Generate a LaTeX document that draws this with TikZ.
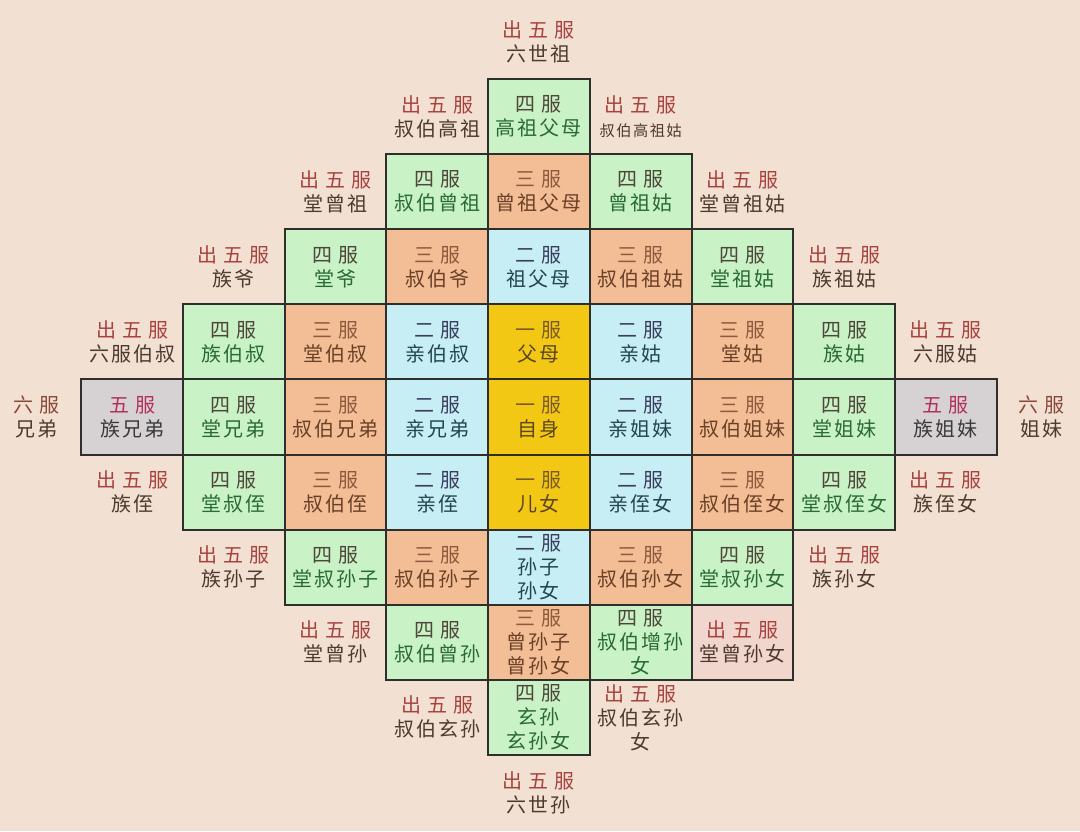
\documentclass[tikz,border=0pt]{standalone}
\usepackage{fontspec}
\newfontfamily\cjk[LetterSpace=10]{Noto Sans CJK SC}
\newfontfamily\cjkwide[LetterSpace=30]{Noto Sans CJK SC}

\definecolor{paper}{HTML}{F2E1D3}
\definecolor{gridline}{HTML}{2E2E2A}
\definecolor{yifill}{HTML}{F3C814}
\definecolor{yigrade}{HTML}{7A5A28}
\definecolor{yitext}{HTML}{5A4620}
\definecolor{erfill}{HTML}{C8EEF5}
\definecolor{ergrade}{HTML}{3A3E5E}
\definecolor{ertext}{HTML}{24464E}
\definecolor{sanfill}{HTML}{F3BE96}
\definecolor{sangrade}{HTML}{8E5A3C}
\definecolor{santext}{HTML}{6A4026}
\definecolor{sifill}{HTML}{C9F2C7}
\definecolor{sigrade}{HTML}{4E4638}
\definecolor{sitext}{HTML}{2A6A34}
\definecolor{wufill}{HTML}{D6D2D4}
\definecolor{wugrade}{HTML}{B3305A}
\definecolor{wutext}{HTML}{3A3A3A}
\definecolor{pinkfill}{HTML}{F0D6CD}
\definecolor{outgrade}{HTML}{A8423F}
\definecolor{outtext}{HTML}{4E3A2E}
\definecolor{liugrade}{HTML}{8A4A3A}

\newcommand\grade[2]{{\cjkwide\color{#1}#2}}

\tikzset{
  cell/.style={rectangle, minimum width=50.85pt, minimum height=37.55pt,
    inner sep=0pt, align=center, font=\cjk\fontsize{10}{12}\selectfont},
  box/.style={cell, draw=gridline, line width=1pt},
  yi/.style={box, fill=yifill, text=yitext},
  er/.style={box, fill=erfill, text=ertext},
  san/.style={box, fill=sanfill, text=santext},
  si/.style={box, fill=sifill, text=sitext},
  wu/.style={box, fill=wufill, text=wutext},
  beyond/.style={cell, text=outtext},
  beyondbox/.style={box, fill=pinkfill, text=outtext}
}

\begin{document}
\begin{tikzpicture}[x=50.85pt, y=37.55pt]
            \fill[paper] (-5.30,5.553) rectangle (5.32,-5.513);
            \useasboundingbox (-5.30,5.553) rectangle (5.32,-5.513);

            % 一服
            \foreach \x/\y/\who in {0/1/父母, 0/0/自身, 0/-1/儿女}
                \node[yi] (yi\x\y) at (\x,\y) {\grade{yigrade}{一服}\\\who};

            % 二服
            \foreach \x/\y/\who in {0/2/祖父母, -1/1/亲伯叔, 1/1/亲姑, -1/0/亲兄弟, 1/0/亲姐妹,
                    -1/-1/亲侄, 1/-1/亲侄女, 0/-2/孙子\\孙女}
                \node[er] (er\x\y) at (\x,\y) {\grade{ergrade}{二服}\\\who};

            % 三服
            \foreach \x/\y/\who in {0/3/曾祖父母, -1/2/叔伯爷, 1/2/叔伯祖姑, -2/1/堂伯叔, 2/1/堂姑,
                    -2/0/叔伯兄弟, 2/0/叔伯姐妹, -2/-1/叔伯侄, 2/-1/叔伯侄女,
                    -1/-2/叔伯孙子, 1/-2/叔伯孙女, 0/-3/曾孙子\\曾孙女}
                \node[san] (san\x\y) at (\x,\y) {\grade{sangrade}{三服}\\\who};

            % 四服
            \foreach \x/\y/\who in {0/4/高祖父母, -1/3/叔伯曾祖, 1/3/曾祖姑, -2/2/堂爷, 2/2/堂祖姑,
                    -3/1/族伯叔, 3/1/族姑, -3/0/堂兄弟, 3/0/堂姐妹, -3/-1/堂叔侄, 3/-1/堂叔侄女,
                    -2/-2/堂叔孙子, 2/-2/堂叔孙女, -1/-3/叔伯曾孙, 1/-3/叔伯增孙\\女, 0/-4/玄孙\\玄孙女}
                \node[si] (si\x\y) at (\x,\y) {\grade{sigrade}{四服}\\\who};

            % 五服
            \foreach \x/\y/\who in {-4/0/族兄弟, 4/0/族姐妹}
                \node[wu] (wu\x\y) at (\x,\y) {\grade{wugrade}{五服}\\\who};

            % 出五服
            \foreach \x/\y/\who in {0/5/六世祖, -1/4/叔伯高祖, 1/4/{\fontsize{7.6}{12}\selectfont 叔伯高祖姑},
                    -2/3/堂曾祖, 2/3/堂曾祖姑, -3/2/族爷, 3/2/族祖姑, -4/1/六服伯叔, 4/1/六服姑,
                    -4/-1/族侄, 4/-1/族侄女, -3/-2/族孙子, 3/-2/族孙女, -2/-3/堂曾孙,
                    -1/-4/叔伯玄孙, 1/-4/叔伯玄孙\\女, 0/-5/六世孙}
                \node[beyond] (beyond\x\y) at (\x,\y) {\grade{outgrade}{出五服}\\\who};
            \node[beyondbox] (beyond2-3) at (2,-3) {\grade{outgrade}{出五服}\\堂曾孙女};

            % 六服
            \node[beyond, xshift=3pt] (liuL) at (-5,0) {\grade{liugrade}{六服}\\兄弟};
            \node[beyond, xshift=-3pt] (liuR) at (5,0) {\grade{liugrade}{六服}\\姐妹};
\end{tikzpicture}
\end{document}
